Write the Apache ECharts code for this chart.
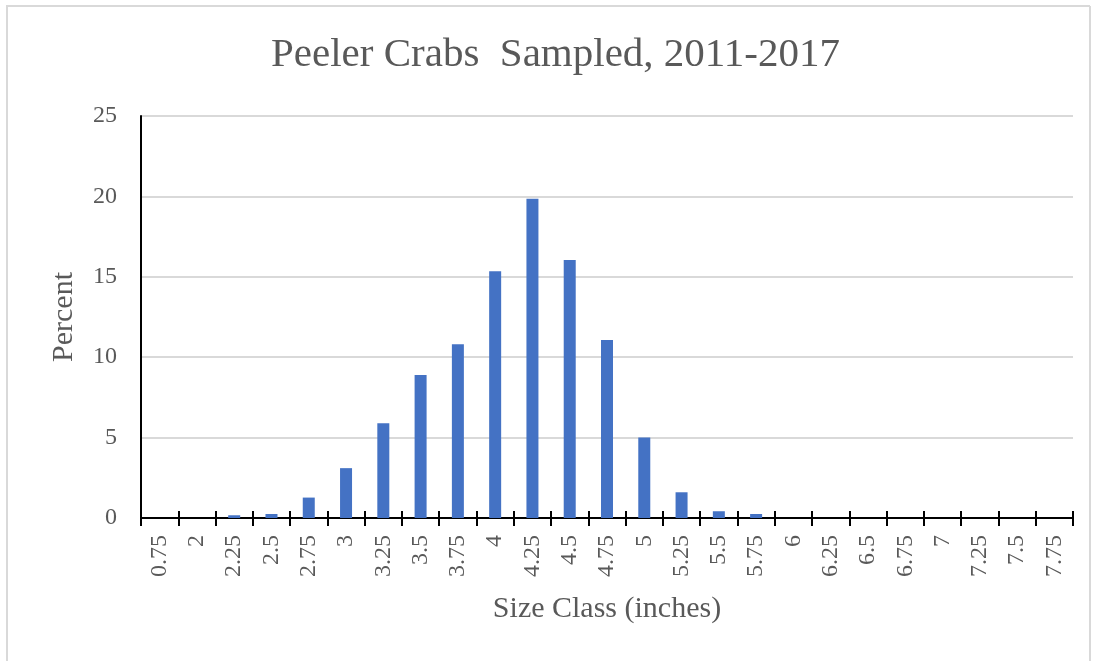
<!DOCTYPE html>
<html>
<head>
<meta charset="utf-8">
<script src="https://cdn.jsdelivr.net/npm/echarts@6/dist/echarts.min.js"></script>
<style>
html, body { margin: 0; padding: 0; background: #fff; }
#chart { width: 1095px; height: 661px; }
</style>
</head>
<body>
<div id="chart"></div>
<script>
// size classes (inches) and percent sampled
const sizeClasses = ["0.75", "2", "2.25", "2.5", "2.75", "3", "3.25", "3.5", "3.75", "4", "4.25", "4.5", "4.75", "5", "5.25", "5.5", "5.75", "6", "6.25", "6.5", "6.75", "7", "7.25", "7.5", "7.75"]
const percentValues = [0, 0, 0.17, 0.25, 1.27, 3.1, 5.9, 8.9, 10.8, 15.35, 19.85, 16.05, 11.07, 5.0, 1.6, 0.42, 0.25, 0, 0, 0, 0, 0, 0, 0, 0]
const yTicks = [0, 5, 10, 15, 20, 25]

const font = "Liberation Serif"
const grey = "#595959"

const chart = echarts.init(document.getElementById("chart"))
chart.setOption({
	animation: false,
	title: {
		text: "Peeler Crabs  Sampled, 2011-2017",
		left: 266,
		top: 30,
		textStyle: { fontFamily: font, fontSize: 41, fontWeight: "normal", color: grey },
	},
	grid: { left: 141, right: 22, top: 116, bottom: 143 },
	xAxis: [
		{
			type: "category",
			data: sizeClasses,
			name: "Size Class (inches)",
			nameLocation: "middle",
			nameGap: 76,
			nameTextStyle: { fontFamily: font, fontSize: 30, color: grey },
			axisLine: { show: true, lineStyle: { color: "#000", width: 2 } },
			axisTick: { show: true, interval: 0, length: 8, lineStyle: { color: "#000", width: 2 } },
			axisLabel: { rotate: 90, fontFamily: font, fontSize: 24, color: grey, margin: 17, interval: 0 },
			splitLine: { show: false },
		},
		{
			type: "category",
			data: sizeClasses,
			position: "bottom",
			show: true,
			axisLine: { show: false },
			axisTick: { show: true, inside: true, interval: 0, length: 7, lineStyle: { color: "#000", width: 2 } },
			axisLabel: { show: false },
			splitLine: { show: false },
		},
	],
	yAxis: {
		type: "value",
		min: 0,
		max: 25,
		interval: 5,
		name: "Percent",
		nameLocation: "middle",
		nameGap: 62,
		nameTextStyle: { fontFamily: font, fontSize: 30, color: grey },
		axisLine: { show: true, lineStyle: { color: "#000", width: 2 } },
		axisTick: { show: false },
		axisLabel: {
			fontFamily: font, fontSize: 24, color: grey, margin: 24,
			formatter: v => (yTicks.includes(v) ? String(v) : ""),
		},
		splitLine: { lineStyle: { color: "#d9d9d9", width: 2 } },
	},
	series: [
		{
			type: "bar",
			data: percentValues,
			barWidth: 12,
			itemStyle: { color: "#4472C4" },
		},
	],
	graphic: [
		{ type: "line", shape: { x1: 7, y1: 6, x2: 7, y2: 661 }, style: { stroke: "#d9d9d9", lineWidth: 2 } },
		{ type: "line", shape: { x1: 6, y1: 6, x2: 1090, y2: 6 }, style: { stroke: "#d9d9d9", lineWidth: 2 } },
		{ type: "line", shape: { x1: 1090, y1: 6, x2: 1090, y2: 661 }, style: { stroke: "#d9d9d9", lineWidth: 2 } },
	],
})
</script>
</body>
</html>
